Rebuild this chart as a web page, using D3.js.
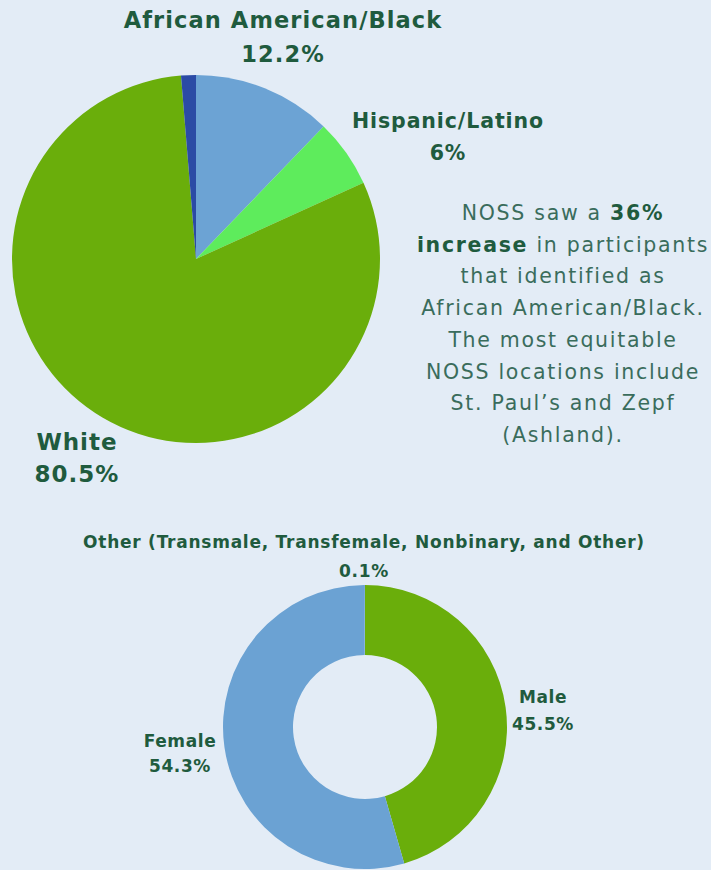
<!DOCTYPE html>
<html>
<head>
<meta charset="utf-8">
<script src="https://cdn.jsdelivr.net/npm/d3@7"></script>
<style>
  html, body { margin: 0; padding: 0; background: #e3ecf6; }
  svg { display: block; }
  .lbl { font-family: "DejaVu Sans", sans-serif; font-weight: bold; fill: #1f5b3e; }
  .note { font-family: "DejaVu Sans", sans-serif; fill: #3a6c5c; font-size: 20.5px; letter-spacing: 1.7px; }
</style>
</head>
<body>
<div id="chart"></div>
<script>
"use strict";

// race / ethnicity pie
var raceLabels = ["African American/Black", "Hispanic/Latino", "White", "Other"];
var raceValues = [12.2, 6, 80.5, 1.3];
var raceShown = ["12.2%", "6%", "80.5%", ""];

// gender donut
var genderLabels = ["Male", "Female", "Other (Transmale, Transfemale, Nonbinary, and Other)"];
var genderValues = [45.5, 54.3, 0.1];
var genderShown = ["45.5%", "54.3%", "0.1%"];

var noteLines = [
  [["NOSS saw a ", false], ["36%", true]],
  [["increase", true], [" in participants", false]],
  [["that identified as", false]],
  [["African American/Black.", false]],
  [["The most equitable", false]],
  [["NOSS locations include", false]],
  [["St. Paul\u2019s and Zepf", false]],
  [["(Ashland).", false]]
];

var RACE_COLORS = ["#6ca3d4", "#5eec5c", "#6aae0b", "#2b4ba5"];
var GENDER_COLORS = ["#6aae0b", "#6ba2d3", "#6ba2d3"];

var width = 711, height = 870;

var svg = d3.select("#chart").append("svg")
  .attr("width", width)
  .attr("height", height);

svg.append("rect").attr("width", width).attr("height", height).attr("fill", "#e3ecf6");

var pie = d3.pie().sort(null).value(function(d) { return d; });

// ---- top pie
var raceG = svg.append("g").attr("transform", "translate(196,259)");
var raceArc = d3.arc().innerRadius(0).outerRadius(184);

raceG.selectAll("path")
  .data(pie(raceValues))
  .enter()
  .append("path")
  .attr("d", raceArc)
  .attr("fill", function(d, i) { return RACE_COLORS[i]; });

// label anchors (name baseline, value baseline, x centre)
var raceLabelPos = [
  { x: 283, y1: 28, y2: 62, size: 22.5, ls: 1.1 },
  { x: 448, y1: 128, y2: 160, size: 20.5, ls: 0.9 },
  { x: 77, y1: 450, y2: 482, size: 23, ls: 1.0 }
];

raceLabelPos.forEach(function(p, i) {
  svg.append("text").attr("class", "lbl")
    .attr("x", p.x).attr("y", p.y1)
    .attr("text-anchor", "middle")
    .attr("font-size", p.size)
    .attr("letter-spacing", p.ls)
    .text(raceLabels[i]);
  svg.append("text").attr("class", "lbl")
    .attr("x", p.x).attr("y", p.y2)
    .attr("text-anchor", "middle")
    .attr("font-size", p.size)
    .attr("letter-spacing", p.ls)
    .text(raceShown[i]);
});

// ---- paragraph
var note = svg.append("text").attr("class", "note").attr("text-anchor", "middle");
noteLines.forEach(function(line, i) {
  line.forEach(function(part, j) {
    var t = note.append("tspan").text(part[0]);
    if (j === 0) t.attr("x", 563).attr("y", 220 + i * 31.7);
    if (part[1]) t.attr("font-weight", "bold").attr("fill", "#1f5b3e");
  });
});

// ---- donut
var genderG = svg.append("g").attr("transform", "translate(365,727)");
var genderArc = d3.arc().innerRadius(72).outerRadius(142);

genderG.selectAll("path")
  .data(pie(genderValues))
  .enter()
  .append("path")
  .attr("d", genderArc)
  .attr("fill", function(d, i) { return GENDER_COLORS[i]; });

var genderLabelPos = [
  { x: 543, y1: 703, y2: 730, size: 17, ls: 0.6 },
  { x: 180, y1: 747, y2: 772, size: 17, ls: 0.6 },
  { x: 364, y1: 548, y2: 577, size: 17, ls: 0.75 }
];

genderLabelPos.forEach(function(p, i) {
  svg.append("text").attr("class", "lbl")
    .attr("x", p.x).attr("y", p.y1)
    .attr("text-anchor", "middle")
    .attr("font-size", p.size)
    .attr("letter-spacing", p.ls)
    .text(genderLabels[i]);
  svg.append("text").attr("class", "lbl")
    .attr("x", p.x).attr("y", p.y2)
    .attr("text-anchor", "middle")
    .attr("font-size", p.size)
    .attr("letter-spacing", p.ls)
    .text(genderShown[i]);
});
</script>
</body>
</html>
